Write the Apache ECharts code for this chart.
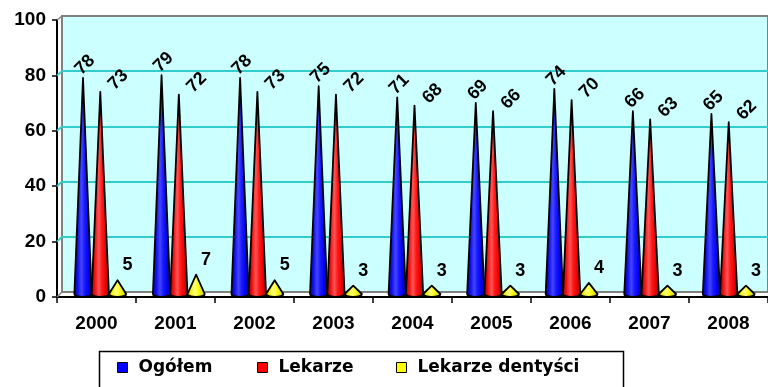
<!DOCTYPE html>
<html>
<head>
<meta charset="utf-8">
<script src="https://cdn.jsdelivr.net/npm/echarts@6/dist/echarts.min.js"></script>
<style>
  html, body { margin: 0; padding: 0; background: #fff; }
  #chart { width: 768px; height: 387px; }
</style>
</head>
<body>
<div id="chart"></div>
<script>
// Years on the category axis
const years = ['2000', '2001', '2002', '2003', '2004', '2005', '2006', '2007', '2008'];
// Values per series
const ogolem = [78, 79, 78, 75, 71, 69, 74, 66, 65];
const lekarze = [73, 72, 73, 72, 68, 66, 70, 63, 62];
const dentysci = [5, 7, 5, 3, 3, 3, 4, 3, 3];
// Value axis ticks
const yTicks = [0, 20, 40, 60, 80, 100];

const LABEL_FONT = 'bold 18px "Liberation Sans", Arial, sans-serif';

// Cone look per series: slot offset inside the category band, shading, label placement
const coneStyles = [
  { name: 'Ogółem', color: '#0000FF', slot: -0.22, rotate: true, dx: 2, dy: -13,
    stops: ['#000090', '#1010F0', '#4545FF', '#1A1AFF', '#0000E8', '#00007A'] },
  { name: 'Lekarze', color: '#FF0000', slot: 0, rotate: true, dx: 18, dy: -12,
    stops: ['#900000', '#F01010', '#FF5555', '#FF1A1A', '#E00000', '#7A0000'] },
  { name: 'Lekarze dentyści', color: '#FFFF00', slot: 0.22, rotate: false, dx: 10, dy: -15,
    stops: ['#9A9A00', '#F0F010', '#FFFF80', '#FFFF20', '#E0E000', '#8A8A00'] }
];

function makeCone(style) {
  return function (params, api) {
    const cat = api.value(0);
    const v = api.value(1);
    const base = api.coord([cat, 0]);
    const tip = api.coord([cat, v]);
    const band = api.size([1, 0])[0];
    const cx = base[0] + style.slot * band;
    const hw = band * 0.11;
    const ry = 3;
    const y0 = base[1];
    const ty = tip[1];
    const path = 'M' + (cx - hw) + ',' + y0 +
      ' L' + cx + ',' + ty +
      ' L' + (cx + hw) + ',' + y0 +
      ' A' + hw + ',' + ry + ' 0 0 1 ' + (cx - hw) + ',' + y0 + ' Z';
    const s = style.stops;
    return {
      type: 'group',
      children: [
        {
          type: 'path',
          shape: { pathData: path },
          style: {
            fill: {
              type: 'linear', x: 0, y: 0, x2: 1, y2: 0,
              colorStops: [
                { offset: 0, color: s[0] },
                { offset: 0.22, color: s[1] },
                { offset: 0.42, color: s[2] },
                { offset: 0.58, color: s[3] },
                { offset: 0.82, color: s[4] },
                { offset: 1, color: s[5] }
              ]
            },
            stroke: '#000',
            lineWidth: 1.8,
            lineJoin: 'round'
          }
        },
        {
          type: 'text',
          x: cx + style.dx,
          y: ty + style.dy,
          rotation: style.rotate ? Math.PI / 4 : 0,
          z2: 100,
          style: {
            text: String(v),
            font: LABEL_FONT,
            fill: '#000',
            align: 'center',
            verticalAlign: 'middle'
          }
        }
      ]
    };
  };
}

const seriesData = [ogolem, lekarze, dentysci];

const series = coneStyles.map((st, k) => ({
  name: st.name,
  type: 'custom',
  xAxisIndex: 1,
  yAxisIndex: 1,
  itemStyle: { color: st.color },
  renderItem: makeCone(st),
  encode: { x: 0, y: 1 },
  data: seriesData[k].map((v, i) => [i, v])
}));

const legendCommon = {
  icon: 'rect',
  itemWidth: 10,
  itemHeight: 10,
  padding: 0,
  top: 359,
  selectedMode: false,
  itemStyle: { borderColor: '#000', borderWidth: 1 },
  textStyle: {
    fontFamily: '"DejaVu Sans", sans-serif',
    fontWeight: 'bold',
    fontSize: 17,
    color: '#000',
    padding: [0, 0, 0, 6]
  }
};

const axisFont = {
  fontFamily: '"Liberation Sans", Arial, sans-serif',
  fontWeight: 'bold',
  color: '#000'
};

const option = {
  animation: false,
  backgroundColor: '#fff',
  grid: [
    // back wall
    { left: 62, right: -6, top: 16, bottom: 95, show: true,
      backgroundColor: '#CCFFFF', borderColor: '#808080', borderWidth: 2 },
    // cone plane
    { left: 61, width: 711, top: 17, bottom: 93 },
    // front axes
    { left: 57, width: 711, top: 20, bottom: 90 }
  ],
  xAxis: [
    { gridIndex: 0, type: 'category', data: years, show: false },
    { gridIndex: 1, type: 'category', data: years, show: false },
    { gridIndex: 2, type: 'category', data: years,
      axisLine: { lineStyle: { color: '#000', width: 2 } },
      axisTick: { show: true, length: 6, lineStyle: { color: '#000', width: 1.5 } },
      axisLabel: Object.assign({ fontSize: 19, margin: 17 }, axisFont),
      splitLine: { show: false }
    }
  ],
  yAxis: [
    { gridIndex: 0, type: 'value', min: 0, max: 100, interval: 20,
      axisLine: { show: false }, axisTick: { show: false }, axisLabel: { show: false },
      splitLine: { show: true, showMinLine: false, showMaxLine: false,
        lineStyle: { color: '#33CCCC', width: 2 } } },
    { gridIndex: 1, type: 'value', min: 0, max: 100, show: false, splitLine: { show: false } },
    { gridIndex: 2, type: 'value', min: 0, max: 100, interval: 20,
      axisLine: { show: true, lineStyle: { color: '#000', width: 2 } },
      axisTick: { show: true, length: 5, lineStyle: { color: '#000', width: 1.5 } },
      axisLabel: Object.assign({ fontSize: 19, margin: 11,
        formatter: v => (yTicks.indexOf(v) >= 0 ? String(v) : '') }, axisFont),
      splitLine: { show: false } }
  ],
  legend: [
    Object.assign({ left: 117, data: ['Ogółem'] }, legendCommon),
    Object.assign({ left: 257, data: ['Lekarze'] }, legendCommon),
    Object.assign({ left: 396, data: ['Lekarze dentyści'] }, legendCommon)
  ],
  graphic: [
    { id: 'legendBox', type: 'rect', z: -1,
      shape: { x: 99.5, y: 351.5, width: 524, height: 40 },
      style: { fill: '#fff', stroke: '#000', lineWidth: 1.5 } }
  ],
  series: series
};

const chart = echarts.init(document.getElementById('chart'), null, { renderer: 'canvas' });
chart.setOption(option);

// Short depth edges joining the front value axis to the back wall
const edges = yTicks.map(t => {
  const front = chart.convertToPixel({ xAxisIndex: 2, yAxisIndex: 2 }, [0, t]);
  const back = chart.convertToPixel({ xAxisIndex: 0, yAxisIndex: 0 }, [0, t]);
  const edge = (t === 0 || t === 100);
  return {
    type: 'line', z: 1,
    shape: { x1: 57, y1: front[1], x2: 62, y2: back[1] },
    style: { stroke: edge ? '#808080' : '#33CCCC', lineWidth: edge ? 1.5 : 2 }
  };
});
chart.setOption({ graphic: option.graphic.concat(edges) });
</script>
</body>
</html>
